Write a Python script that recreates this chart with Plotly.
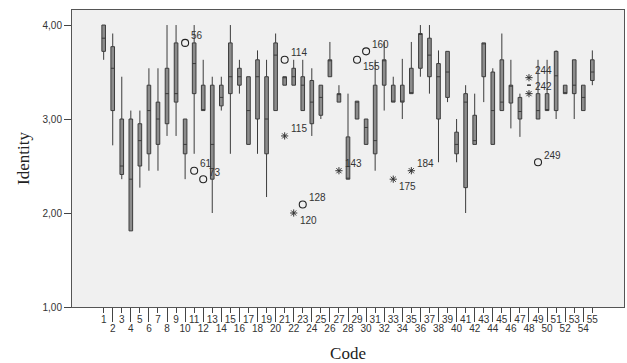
import plotly.graph_objects as go

codes = list(range(1, 56))
lower = [3.63, 2.72, 2.36, 1.81, 2.27, 2.45, 2.45, 2.82, 2.82, 2.36,
         2.63, 3.09, 2.00, 3.09, 2.63, 3.27, 2.73, 2.63, 2.17, 3.09,
         3.36, 3.36, 3.09, 2.82, 3.00, 3.45, 3.18, 2.36, 3.00, 2.73,
         2.45, 3.09, 3.18, 3.00, 3.27, 3.45, 3.27, 2.54, 3.18, 2.54,
         2.00, 2.73, 3.18, 2.73, 3.09, 2.90, 2.81, 3.36, 3.00, 3.09,
         3.00, 3.27, 3.00, 3.09, 3.36]
q1 = [3.72, 3.09, 2.41, 1.81, 2.50, 2.63, 2.73, 2.95, 3.18, 2.63,
      3.27, 3.09, 2.36, 3.14, 3.27, 3.36, 2.73, 3.00, 2.63, 3.09,
      3.36, 3.36, 3.09, 2.95, 3.04, 3.45, 3.18, 2.36, 3.00, 2.73,
      2.63, 3.36, 3.18, 3.18, 3.27, 3.54, 3.45, 3.00, 3.23, 2.63,
      2.27, 2.73, 3.45, 2.73, 3.09, 3.17, 3.00, 3.36, 3.00, 3.09,
      3.09, 3.27, 3.27, 3.09, 3.41]
median = [3.86, 3.54, 2.50, 2.36, 2.77, 3.09, 3.00, 3.27, 3.27, 2.73,
          3.59, 3.09, 2.73, 3.23, 3.45, 3.45, 3.09, 3.45, 3.00, 3.68,
          3.45, 3.45, 3.36, 3.18, 3.23, 3.63, 3.27, 2.36, 3.18, 2.91,
          2.77, 3.63, 3.18, 3.18, 3.27, 3.91, 3.68, 3.45, 3.50, 2.73,
          3.18, 2.77, 3.81, 3.09, 3.18, 3.36, 3.08, 3.36, 3.09, 3.09,
          3.46, 3.27, 3.36, 3.23, 3.50]
q3 = [4.00, 3.77, 3.00, 3.00, 2.95, 3.36, 3.18, 3.54, 3.81, 3.00,
      3.81, 3.36, 3.36, 3.36, 3.81, 3.54, 3.45, 3.63, 3.45, 3.81,
      3.45, 3.54, 3.45, 3.41, 3.36, 3.63, 3.27, 2.81, 3.19, 3.00,
      3.36, 3.63, 3.36, 3.36, 3.54, 3.91, 3.86, 3.59, 3.72, 2.86,
      3.27, 3.04, 3.81, 3.50, 3.63, 3.36, 3.23, 3.36, 3.27, 3.27,
      3.72, 3.36, 3.63, 3.36, 3.63]
upper = [4.00, 3.91, 3.45, 3.09, 3.09, 3.54, 3.54, 4.00, 4.00, 3.00,
         4.00, 3.63, 3.45, 3.45, 4.00, 3.63, 3.45, 3.73, 3.63, 3.91,
         3.45, 3.63, 3.63, 3.54, 3.36, 3.82, 3.36, 3.27, 3.19, 3.00,
         3.63, 3.82, 3.45, 3.64, 3.82, 4.00, 4.00, 3.73, 3.72, 3.00,
         3.36, 3.27, 3.81, 3.54, 3.91, 3.63, 3.27, 3.36, 3.63, 3.63,
         3.73, 3.36, 3.63, 3.36, 3.73]

# outliers (circles) and extremes (stars)
circle_code = [10, 11, 12, 21, 23, 29, 30, 49]
circle_value = [3.81, 2.45, 2.36, 3.63, 2.09, 3.63, 3.72, 2.54]
circle_label = ["56", "61", "73", "114", "128", "155", "160", "249"]
star_code = [21, 22, 27, 33, 35, 48, 48]
star_value = [2.82, 2.00, 2.45, 2.36, 2.45, 3.44, 3.27]
star_label = ["115", "120", "143", "175", "184", "244", "242"]
below_labels = {"120", "155", "175"}

y_tickvals = [1, 2, 3, 4]
y_ticktext = ["1,00", "2,00", "3,00", "4,00"]
odd_codes = [c for c in codes if c % 2 == 1]
even_codes = [c for c in codes if c % 2 == 0]

fig = go.Figure()
fig.add_trace(go.Box(
    x=codes, q1=q1, median=median, q3=q3,
    lowerfence=lower, upperfence=upper,
    width=0.4, whiskerwidth=0, boxpoints=False,
    fillcolor="#8c8c8c", line=dict(color="#3c3c3c", width=1),
    showlegend=False, hoverinfo="skip",
))
fig.add_trace(go.Scatter(
    x=circle_code, y=circle_value, mode="markers",
    marker=dict(symbol="circle-open", size=7, color="#222",
                line=dict(width=1.1, color="#222")),
    showlegend=False,
))
fig.add_trace(go.Scatter(
    x=star_code, y=star_value, mode="markers",
    marker=dict(symbol="asterisk-open", size=6, color="#333",
                line=dict(width=1.0, color="#333")),
    showlegend=False,
))
# invisible trace to keep the second x axis alive
fig.add_trace(go.Scatter(x=[codes[0]], y=[None], xaxis="x2", mode="markers",
                         showlegend=False, hoverinfo="skip"))

annotations = []
for c, v, lab in list(zip(circle_code, circle_value, circle_label)) + \
        list(zip(star_code, star_value, star_label)):
    below = lab in below_labels
    annotations.append(dict(
        x=c, y=v, xref="x", yref="y", text=lab, showarrow=False,
        xanchor="left", yanchor="middle", xshift=4,
        yshift=-7 if below else 7,
        font=dict(family="Liberation Sans, Arial", size=10, color="#333"),
    ))

tickfont = dict(family="Liberation Sans, Arial", size=10, color="#333")
fig.update_layout(
    width=627, height=363,
    margin=dict(l=72, r=3, t=10, b=56),
    paper_bgcolor="white", plot_bgcolor="#f0f0f0",
    annotations=annotations,
    xaxis=dict(
        range=[-2.5, 58.5], tickvals=odd_codes,
        ticktext=[str(c) for c in odd_codes],
        ticks="outside", ticklen=5, tickwidth=1, tickcolor="#444",
        tickfont=tickfont, ticklabelstandoff=-2,
        showgrid=False, zeroline=False,
        showline=True, linecolor="#555", linewidth=1, mirror=True,
    ),
    xaxis2=dict(
        range=[-2.5, 58.5], overlaying="x", anchor="y", side="bottom",
        tickvals=even_codes, ticktext=[str(c) for c in even_codes],
        ticks="outside", ticklen=14, tickwidth=1, tickcolor="#444",
        tickfont=tickfont, ticklabelstandoff=-2,
        showgrid=False, zeroline=False, showline=False,
        title=dict(text="Code", standoff=14,
                   font=dict(family="Liberation Serif, Times New Roman",
                             size=17, color="#222")),
    ),
    yaxis=dict(
        range=[1, 4.16], tickvals=y_tickvals, ticktext=y_ticktext,
        ticks="outside", ticklen=7, tickwidth=1, tickcolor="#444",
        tickfont=tickfont, showgrid=False, zeroline=False,
        showline=True, linecolor="#555", linewidth=1, mirror=True,
        title=dict(text="Identity", standoff=8,
                   font=dict(family="Liberation Serif, Times New Roman",
                             size=17, color="#222")),
    ),
)

fig.write_html(
    "out.html",
    config={"displayModeBar": False},
    post_script="document.body.style.margin='0';document.body.style.overflow='hidden';",
)
